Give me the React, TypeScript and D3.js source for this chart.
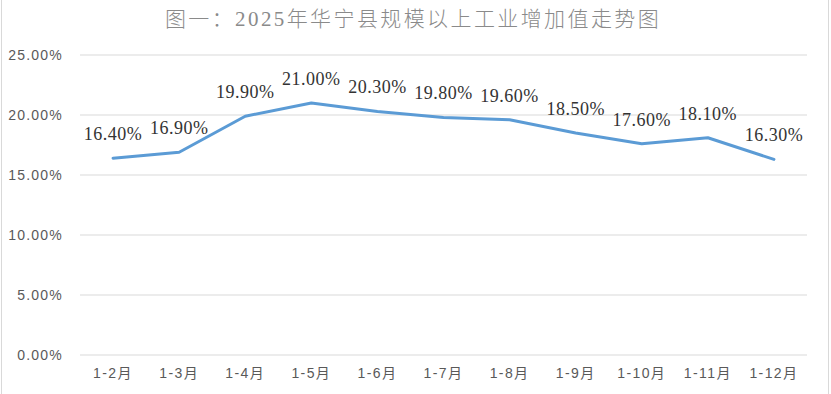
import React from "react";
import { scaleBand, scaleLinear, line } from "d3";

const months = ["1-2月", "1-3月", "1-4月", "1-5月", "1-6月", "1-7月", "1-8月", "1-9月", "1-10月", "1-11月", "1-12月"];
const growth = [16.4, 16.9, 19.9, 21.0, 20.3, 19.8, 19.6, 18.5, 17.6, 18.1, 16.3];
const yTicks = [0, 5, 10, 15, 20, 25];
const title = "图一：2025年华宁县规模以上工业增加值走势图";

const W = 831;
const H = 394;
const left = 80;
const right = 807;
const top = 55;
const bottom = 355;

const App = () => {
  const x = scaleBand<string>().domain(months).range([left, right]).padding(0);
  const y = scaleLinear().domain([0, 25]).range([bottom, top]);
  const cx = (m: string) => (x(m) as number) + x.bandwidth() / 2;

  const path = line<number>()
    .x((_, i) => cx(months[i]))
    .y((d) => y(d))(growth);

  return (
    <svg
      width={W}
      height={H}
      style={{ position: "fixed", left: 0, top: 0, background: "#fff" }}
    >
      <rect x={1.5} y={-2} width={827} height={H + 4} fill="#fff" stroke="#d9d9d9" />
      <text
        x={413}
        y={26}
        textAnchor="middle"
        fontFamily="'Liberation Serif', 'Noto Sans CJK SC', serif"
        fontSize={21}
        fontWeight={300}
        letterSpacing={2.4}
        fill="#8a8a8a"
      >
        {title}
      </text>
      {yTicks.map((t) => (
        <g key={t}>
          <line x1={left} x2={right} y1={y(t)} y2={y(t)} stroke="#d9d9d9" strokeWidth={1.2} />
          <text
            x={63}
            y={y(t)}
            dy="0.35em"
            textAnchor="end"
            fontFamily="'Liberation Sans', Arial, sans-serif"
            fontSize={14}
            letterSpacing={1.2}
            fill="#595959"
          >
            {t.toFixed(2)}%
          </text>
        </g>
      ))}
      {months.map((m) => (
        <text
          key={m}
          x={cx(m)}
          y={378}
          textAnchor="middle"
          fontFamily="'Liberation Sans', 'Noto Sans CJK SC', sans-serif"
          fontSize={14}
          letterSpacing={1.4}
          fill="#595959"
        >
          {m}
        </text>
      ))}
      <path d={path ?? ""} fill="none" stroke="#5b9bd5" strokeWidth={3} strokeLinejoin="round" strokeLinecap="round" />
      {growth.map((v, i) => (
        <text
          key={i}
          x={cx(months[i])}
          y={y(v) - 18}
          textAnchor="middle"
          fontFamily="'Liberation Serif', 'Times New Roman', serif"
          fontSize={18}
          letterSpacing={0.5}
          fill="#333333"
        >
          {v.toFixed(2)}%
        </text>
      ))}
    </svg>
  );
};

export default App;
